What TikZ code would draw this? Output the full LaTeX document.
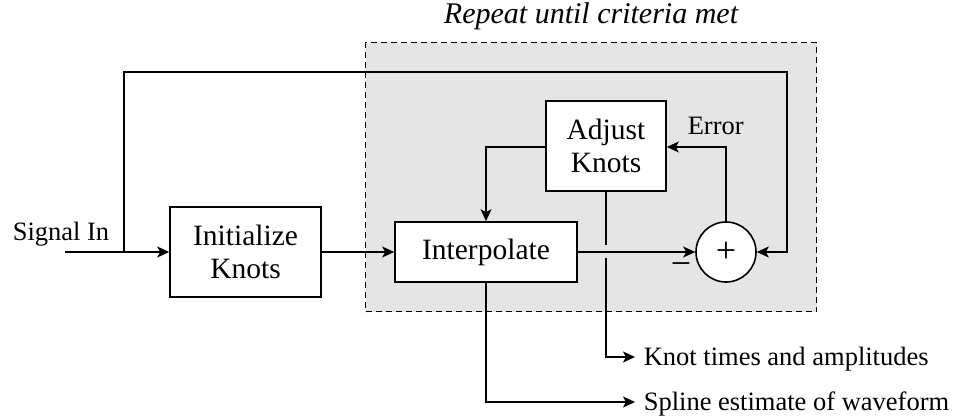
\documentclass[tikz,border=0pt]{standalone}
\usepackage{fontspec}
\setmainfont{Liberation Serif}
\usetikzlibrary{arrows.meta}
\begin{document}
\begin{tikzpicture}[x=1pt,y=-1pt,line width=1.6pt,
  >={Stealth[length=12pt,width=11pt,inset=3pt]},
  font=\fontsize{26.5}{29}\selectfont,
  blk/.style={draw,fill=white,inner sep=0pt,align=center,font=\fontsize{29.5}{33}\selectfont},
  lbl/.style={inner sep=0pt},
  sym/.style={font=\fontsize{36}{38}\selectfont}]
\useasboundingbox (0,0) rectangle (953,417);
% loop region
\node[draw,line width=1.3pt,dash pattern=on 6pt off 4pt,fill=black!10,
  minimum width=451pt,minimum height=269pt,inner sep=0pt,anchor=north west] (loop) at (365,42) {};
\node[lbl,font=\fontsize{30}{32}\selectfont\itshape,anchor=base] (title) at (591,24) {Repeat until criteria met};
% blocks
\node[blk,minimum width=151pt,minimum height=90pt] (init) at (245.5,252) {Initialize\\Knots};
\node[blk,minimum width=182pt,minimum height=60pt] (interp) at (486,252) {Interpolate};
\node[blk,minimum width=120pt,minimum height=90pt] (adj) at (606,146) {Adjust\\Knots};
\node[draw,fill=white,circle,minimum size=60pt,inner sep=0pt,sym] (sum) at (726,252) {+};
% labels
\node[lbl,anchor=base west] (sig) at (12,240) {Signal In};
\node[lbl,anchor=base west] (err) at (687,135) {Error};
\node[lbl,anchor=center,sym] (minus) at (681,269) {\char"2212};
\node[lbl,anchor=base west] (kt) at (643,365) {Knot times and amplitudes};
\node[lbl,anchor=base west] (sp) at (643,410) {Spline estimate of waveform};
% coordinates
\coordinate (in) at (65,252);
\coordinate (tap) at (124,252);
\coordinate (fbR) at (787,72);
\coordinate (fbL) at (124,72);
\coordinate (gapT) at (606,245);
\coordinate (gapB) at (606,258);
\coordinate (ktEnd) at (635,357);
\coordinate (spEnd) at (635,402);
\coordinate (errC) at (726,147);
\coordinate (adjL) at (486,147);
% connectors
\draw[->] (in) -- (init.west);
\draw[->] (tap) -- (fbL) -- (fbR) |- (sum.east);
\draw[->] (init.east) -- (interp.west);
\draw[->] (interp.east) -- (sum.west);
\draw[->] (sum.north) -- (errC) -- (adj.east |- errC);
\draw[->] (adj.west |- adjL) -- (adjL) -- (interp.north);
\draw (adj.south) -- (gapT);
\draw[->] (gapB) |- (ktEnd);
\draw[->] (interp.south) |- (spEnd);
\end{tikzpicture}
\end{document}
